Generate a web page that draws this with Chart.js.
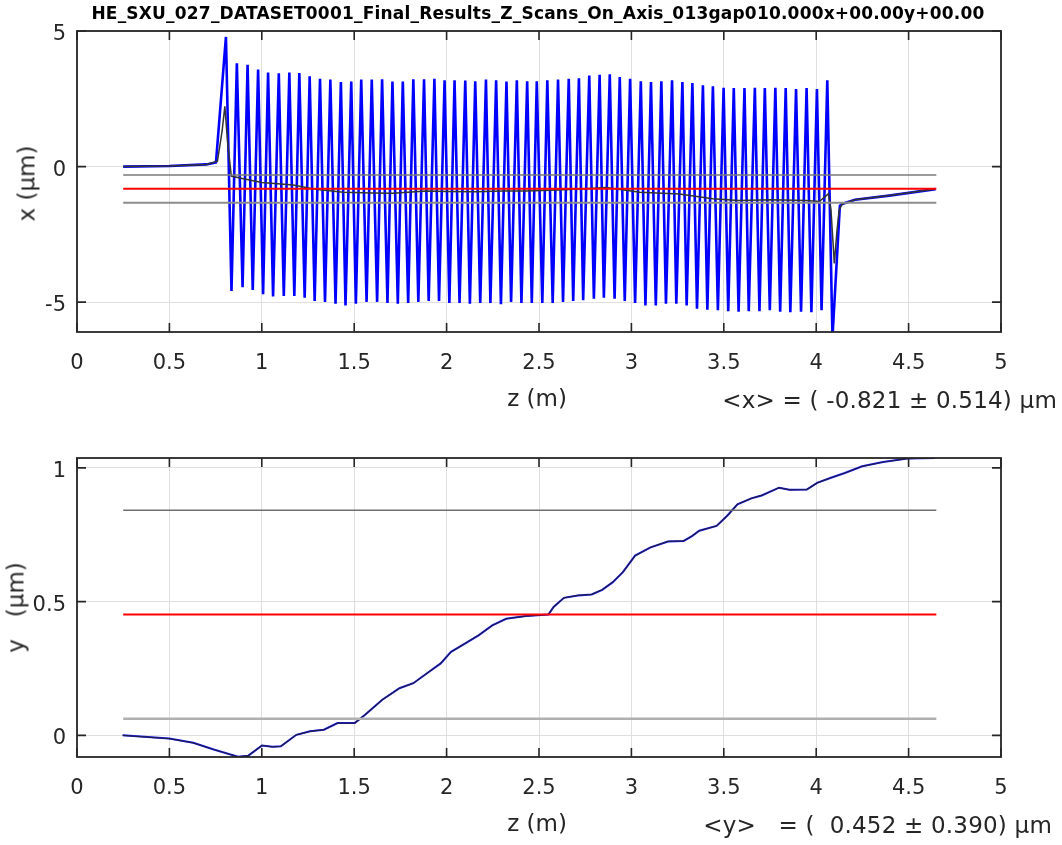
<!DOCTYPE html>
<html>
<head>
<meta charset="utf-8">
<title>Z scans on axis</title>
<script src="https://cdn.jsdelivr.net/npm/chart.js@4.4.1/dist/chart.umd.min.js"></script>
<style>
  body { margin: 0; background: #fff; }
  #page { position: relative; width: 1062px; height: 845px; overflow: hidden;
          font-family: "DejaVu Sans", sans-serif; color: #262626; }
  canvas { position: absolute; left: 0; }
  .title { position: absolute; left: 0; width: 1076px; top: 5px; text-align: center;
           font-weight: bold; font-size: 17px; line-height: 17px; letter-spacing: 0.2px;
           color: #000; white-space: pre; }
  .lbl { position: absolute; white-space: pre; font-size: 23px; line-height: 23px; }
  .zlbl { width: 200px; left: 437px; text-align: center; }
  .ylbl { width: 200px; height: 23px; text-align: center; transform: rotate(-90deg); }
  .stat { text-align: right; letter-spacing: 0.2px; }
</style>
</head>
<body>
<div id="page">
  <canvas id="topChart" width="1062" height="420" style="top:0"></canvas>
  <canvas id="bottomChart" width="1062" height="425" style="top:420px"></canvas>

  <div class="title">HE_SXU_027_DATASET0001_Final_Results_Z_Scans_On_Axis_013gap010.000x+00.00y+00.00</div>

  <div class="lbl ylbl" style="left:-73px; top:172px">x (μm)</div>
  <div class="lbl zlbl" style="top:387px">z (m)</div>
  <div class="lbl stat" id="statX" style="right:5px; top:389px"></div>

  <div class="lbl ylbl" style="left:-84px; top:596px">y   (μm)</div>
  <div class="lbl zlbl" style="top:812px">z (m)</div>
  <div class="lbl stat" id="statY" style="right:10px; top:814px"></div>
</div>

<script>
"use strict";

// tick labels
const zTicks = [0, 0.5, 1, 1.5, 2, 2.5, 3, 3.5, 4, 4.5, 5];
const xTicks = [-5, 0, 5];
const yTicks = [0, 0.5, 1];

// statistics printed under each plot
const meanX = -0.821, sdX = 0.514;
const meanY = 0.452, sdY = 0.390;
const zStart = 0.25, zEnd = 4.65;

// x trajectory (blue): lead-in, peaks and troughs of each period, tail
const zLead = [0.25, 0.5, 0.7, 0.752];
const xLead = [0, 0.02, 0.08, 0.15];

const zPeak = [0.806, 0.865, 0.923, 0.980, 1.034, 1.092, 1.149, 1.203, 1.259, 1.315,
               1.371, 1.428, 1.484, 1.538, 1.595, 1.651, 1.707, 1.763, 1.820, 1.878,
               1.934, 1.989, 2.043, 2.101, 2.155, 2.213, 2.268, 2.324, 2.380, 2.436,
               2.488, 2.545, 2.603, 2.661, 2.716, 2.772, 2.828, 2.883, 2.937, 2.993,
               3.051, 3.106, 3.162, 3.220, 3.276, 3.330, 3.387, 3.441, 3.499, 3.554,
               3.612, 3.668, 3.722, 3.779, 3.835, 3.891, 3.948, 4.004, 4.060];
const xPeak = [4.78, 3.81, 3.75, 3.58, 3.47, 3.44, 3.47, 3.45, 3.33, 3.24,
               3.21, 3.12, 3.14, 3.21, 3.21, 3.22, 3.14, 3.14, 3.22, 3.22,
               3.24, 3.18, 3.18, 3.17, 3.15, 3.21, 3.18, 3.14, 3.18, 3.15,
               3.15, 3.18, 3.21, 3.24, 3.26, 3.36, 3.39, 3.40, 3.30, 3.24,
               3.15, 3.12, 3.15, 3.18, 3.12, 3.08, 3.00, 2.96, 2.91, 2.90,
               2.90, 2.91, 2.90, 2.91, 2.90, 2.86, 2.90, 2.86, 3.18];

const zTrough = [0.836, 0.896, 0.951, 1.007, 1.061, 1.119, 1.176, 1.232, 1.286, 1.342,
                 1.399, 1.453, 1.509, 1.567, 1.624, 1.680, 1.736, 1.792, 1.847, 1.903,
                 1.959, 2.015, 2.070, 2.126, 2.182, 2.237, 2.294, 2.349, 2.405, 2.461,
                 2.518, 2.574, 2.630, 2.685, 2.739, 2.797, 2.851, 2.909, 2.964, 3.020,
                 3.076, 3.132, 3.187, 3.243, 3.299, 3.355, 3.411, 3.468, 3.524, 3.580,
                 3.635, 3.693, 3.749, 3.805, 3.860, 3.918, 3.974, 4.029, 4.088];
const xTrough = [-4.59, -4.45, -4.55, -4.71, -4.79, -4.77, -4.77, -4.84, -4.96, -4.99,
                 -5.06, -5.12, -5.06, -4.99, -4.99, -5.03, -5.06, -5.03, -4.99, -4.96,
                 -4.96, -5.03, -5.03, -5.06, -5.03, -5.03, -5.08, -4.99, -5.03, -5.03,
                 -5.03, -5.03, -4.99, -4.96, -4.93, -4.87, -4.84, -4.87, -4.96, -5.03,
                 -5.12, -5.12, -5.06, -5.06, -5.12, -5.24, -5.28, -5.30, -5.33, -5.35,
                 -5.33, -5.33, -5.30, -5.35, -5.37, -5.35, -5.37, -5.30, -6.30];

const zTail = [4.128, 4.14, 4.21, 4.395, 4.646];
const xTail = [-1.45, -1.38, -1.22, -1.07, -0.83];

// period averaged x trajectory (black)
const zAvg = [0.25, 0.5, 0.7, 0.76, 0.785, 0.80, 0.815, 0.835, 0.9, 1.0,
              1.17, 1.28, 1.44, 1.6, 1.71, 1.89, 2.0, 2.16, 2.3, 2.43,
              2.6, 2.75, 2.865, 2.95, 3.045, 3.26, 3.44, 3.58, 3.76, 3.945,
              4.017, 4.05, 4.066, 4.08, 4.098, 4.112, 4.124, 4.14, 4.21, 4.395, 4.646];
const xAvg = [0, 0.02, 0.08, 0.2, 1.3, 2.22, 0.9, -0.35, -0.45, -0.59,
              -0.68, -0.83, -0.95, -0.97, -0.98, -0.9, -0.92, -0.93, -0.9, -0.9,
              -0.86, -0.82, -0.77, -0.85, -0.95, -1.01, -1.19, -1.25, -1.22, -1.25,
              -1.29, -1.1, -1.0, -1.6, -3.57, -2.4, -1.62, -1.38, -1.22, -1.07, -0.83];

// y trajectory
const zY = [0.247, 0.499, 0.629, 0.740, 0.871, 0.927, 1.001, 1.057, 1.103, 1.187,
            1.261, 1.336, 1.410, 1.503, 1.559, 1.652, 1.745, 1.820, 1.894, 1.968,
            2.024, 2.099, 2.173, 2.247, 2.322, 2.429, 2.551, 2.579, 2.635, 2.710,
            2.785, 2.842, 2.898, 2.954, 3.020, 3.104, 3.198, 3.283, 3.330, 3.367,
            3.461, 3.517, 3.574, 3.649, 3.705, 3.799, 3.855, 3.949, 4.005, 4.080,
            4.155, 4.249, 4.362, 4.493, 4.643];
const yVal = [0, -0.012, -0.028, -0.053, -0.080, -0.076, -0.038, -0.043, -0.041, 0.002,
              0.015, 0.021, 0.046, 0.046, 0.077, 0.133, 0.176, 0.195, 0.232, 0.269,
              0.312, 0.343, 0.374, 0.411, 0.436, 0.446, 0.452, 0.480, 0.514, 0.523,
              0.527, 0.544, 0.572, 0.610, 0.672, 0.703, 0.725, 0.727, 0.746, 0.765,
              0.783, 0.820, 0.864, 0.886, 0.897, 0.926, 0.918, 0.919, 0.944, 0.963,
              0.981, 1.006, 1.022, 1.035, 1.037];

function pts(zs, vs) {
  return zs.map((z, i) => ({ x: z, y: vs[i] }));
}

function hLine(v) {
  return [{ x: zStart, y: v }, { x: zEnd, y: v }];
}

// like matlab's %6.3f
function fmt(v) {
  return v.toFixed(3).padStart(6, " ");
}

// blue trace: interleave the peaks and troughs
let blueTrace = pts(zLead, xLead);
for (let i = 0; i < zPeak.length; i++) {
  blueTrace.push({ x: zPeak[i], y: xPeak[i] });
  blueTrace.push({ x: zTrough[i], y: xTrough[i] });
}
blueTrace = blueTrace.concat(pts(zTail, xTail));

document.getElementById("statX").textContent = `<x> = ( ${fmt(meanX)} ± ${sdX.toFixed(3)}) μm`;
document.getElementById("statY").textContent = `<y>   = ( ${fmt(meanY)} ± ${sdY.toFixed(3)}) μm`;

// box round the axes with inward tick marks, matlab style
const boxPlugin = {
  id: "box",
  afterDraw(chart) {
    const ctx = chart.ctx;
    const a = chart.chartArea;
    const sx = chart.scales.x;
    const sy = chart.scales.y;
    const len = 9;
    ctx.save();
    ctx.strokeStyle = "#262626";
    ctx.lineWidth = 1.6;
    ctx.beginPath();
    sx.ticks.forEach(t => {
      const px = sx.getPixelForValue(t.value);
      ctx.moveTo(px, a.bottom);
      ctx.lineTo(px, a.bottom - len);
      ctx.moveTo(px, a.top);
      ctx.lineTo(px, a.top + len);
    });
    sy.ticks.forEach(t => {
      const py = sy.getPixelForValue(t.value);
      ctx.moveTo(a.left, py);
      ctx.lineTo(a.left + len, py);
      ctx.moveTo(a.right, py);
      ctx.lineTo(a.right - len, py);
    });
    ctx.stroke();
    ctx.lineWidth = 1.8;
    ctx.strokeRect(a.left, a.top, a.right - a.left, a.bottom - a.top);
    ctx.restore();
  }
};

const tickFont = { family: "DejaVu Sans", size: 21 };

function line(data, color, width) {
  return { data: data, borderColor: color, borderWidth: width, pointRadius: 0, tension: 0, fill: false };
}

function makeChart(id, datasets, yMin, yMax, yTickList, padTop) {
  return new Chart(document.getElementById(id), {
    type: "line",
    data: { datasets: datasets },
    plugins: [boxPlugin],
    options: {
      responsive: false,
      animation: false,
      devicePixelRatio: 1,
      layout: { padding: { left: 0, right: 61, top: padTop, bottom: 0 } },
      plugins: { legend: { display: false }, tooltip: { enabled: false } },
      scales: {
        x: {
          type: "linear",
          min: 0,
          max: 5,
          afterBuildTicks: s => { s.ticks = zTicks.map(v => ({ value: v })); },
          afterFit: s => { s.height = 88; },
          grid: { color: "#dfdfdf", lineWidth: 1, drawTicks: false },
          border: { display: false },
          ticks: { font: tickFont, color: "#262626", padding: 19, maxRotation: 0,
                   autoSkip: false, callback: v => String(v) }
        },
        y: {
          type: "linear",
          min: yMin,
          max: yMax,
          afterBuildTicks: s => { s.ticks = yTickList.map(v => ({ value: v })); },
          afterFit: s => { s.width = 77; },
          grid: { color: "#dfdfdf", lineWidth: 1, drawTicks: false },
          border: { display: false },
          ticks: { font: tickFont, color: "#262626", padding: 11, labelOffset: 3.5,
                   callback: v => String(v) }
        }
      }
    }
  });
}

// dataset 0 is drawn on top
makeChart("topChart", [
  line(hLine(meanX), "#ff0000", 2),
  line(hLine(meanX + sdX), "#7a7a7a", 1.5),
  line(hLine(meanX - sdX), "#8c8c8c", 2),
  line(pts(zAvg, xAvg), "#333333", 1.5),
  line(blueTrace, "#0000ff", 2.6)
], -6.1, 5, xTicks, 31);

makeChart("bottomChart", [
  line(hLine(meanY), "#ff0000", 2),
  line(hLine(meanY + sdY), "#707070", 1.5),
  line(hLine(meanY - sdY), "#b0b0b0", 2.5),
  line(pts(zY, yVal), "rgba(30,30,40,0.85)", 1.2),
  line(pts(zY, yVal), "#1a1aff", 2)
], -0.081, 1.037, yTicks, 38);
</script>
</body>
</html>
